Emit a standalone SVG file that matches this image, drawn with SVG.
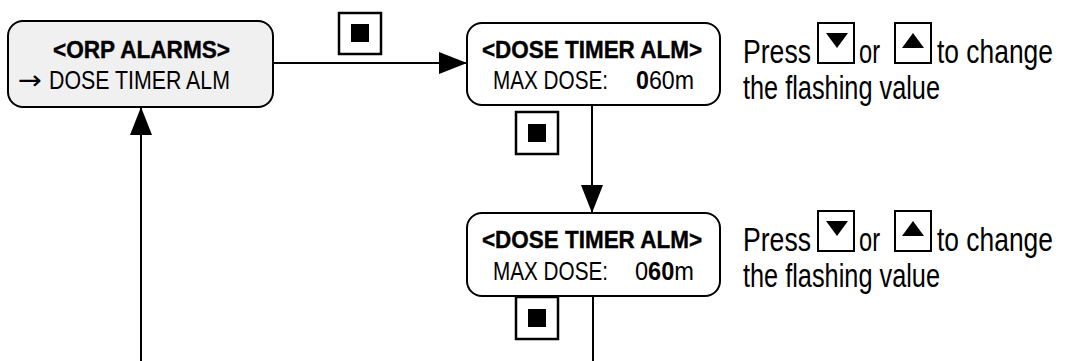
<svg xmlns="http://www.w3.org/2000/svg" width="1077" height="361" viewBox="0 0 1077 361">
<style>
.box{fill:#fff;stroke:#000;stroke-width:2}
.hdr{font-family:"Liberation Sans Narrow","Liberation Sans",Arial,sans-serif;font-weight:bold;font-size:24px;fill:#000;stroke:#000;stroke-width:0.4}
.row{font-family:"Liberation Sans Narrow","Liberation Sans",Arial,sans-serif;font-size:26px;fill:#000}
.b{font-weight:bold}
.note{font-family:"Liberation Sans Narrow","Liberation Sans",Arial,sans-serif;font-size:33px;fill:#000}
.btn{fill:#fff;stroke:#000;stroke-width:2.5}
.key{fill:#fff;stroke:#000;stroke-width:2}
.conn{fill:none;stroke:#000;stroke-width:2}
</style>
<defs>
<marker id="ah" markerUnits="userSpaceOnUse" markerWidth="28" markerHeight="22" viewBox="0 0 28 22" refX="28" refY="11" orient="auto">
<path d="M0,0 L28,11 L0,22 z" fill="#000"/>
</marker>
</defs>
<rect width="1077" height="361" fill="#fff"/>
<g id="connectors">
<line class="conn" x1="273" y1="63" x2="467" y2="63" marker-end="url(#ah)"/>
<line class="conn" x1="592" y1="105" x2="592" y2="213" marker-end="url(#ah)"/>
<line class="conn" x1="593" y1="296" x2="593" y2="361"/>
<line class="conn" x1="141" y1="361" x2="141" y2="107" marker-end="url(#ah)"/>
</g>
<g id="orp-alarms">
<rect x="8" y="21" width="265" height="86" rx="15" fill="#f0f0f0" stroke="#000" stroke-width="2"/>
<text class="hdr" x="53" y="58" textLength="177" lengthAdjust="spacingAndGlyphs">&lt;ORP ALARMS&gt;</text>
<text x="18" y="89" font-family="DejaVu Sans,sans-serif" font-size="26" textLength="24" lengthAdjust="spacingAndGlyphs">→</text>
<text class="row" x="49" y="89" textLength="181" lengthAdjust="spacingAndGlyphs">DOSE TIMER ALM</text>
</g>
<g id="dose-timer-1">
<rect class="box" x="467" y="23" width="253" height="82" rx="15"/>
<text class="hdr" x="482" y="58" textLength="220" lengthAdjust="spacingAndGlyphs">&lt;DOSE TIMER ALM&gt;</text>
<text class="row" x="493" y="89" textLength="115" lengthAdjust="spacingAndGlyphs">MAX DOSE:</text>
<text class="row" x="636" y="89" textLength="58" lengthAdjust="spacingAndGlyphs"><tspan class="b">0</tspan>60m</text>
</g>
<g id="dose-timer-2">
<rect class="box" x="467" y="213" width="253" height="83" rx="15"/>
<text class="hdr" x="482" y="248" textLength="220" lengthAdjust="spacingAndGlyphs">&lt;DOSE TIMER ALM&gt;</text>
<text class="row" x="493" y="280" textLength="115" lengthAdjust="spacingAndGlyphs">MAX DOSE:</text>
<text class="row" x="635" y="280" textLength="59" lengthAdjust="spacingAndGlyphs">0<tspan class="b">60</tspan>m</text>
</g>
<g id="enter-1">
<rect class="btn" x="339" y="13" width="42" height="41"/>
<rect x="351" y="24" width="18" height="18" fill="#000"/>
</g>
<g id="enter-2">
<rect class="btn" x="516" y="112" width="42" height="42"/>
<rect x="528" y="124" width="18" height="18" fill="#000"/>
</g>
<g id="enter-3">
<rect class="btn" x="516" y="297" width="42" height="42"/>
<rect x="528" y="309" width="18" height="18" fill="#000"/>
</g>
<g id="note-1">
<text class="note" x="743" y="63" textLength="68" lengthAdjust="spacingAndGlyphs">Press</text>
<rect class="key" x="818" y="23" width="36" height="40"/>
<polygon points="826,33 848,33 837,48" fill="#000"/>
<text class="note" x="859" y="63" textLength="21" lengthAdjust="spacingAndGlyphs">or</text>
<rect class="key" x="895" y="23" width="36" height="40"/>
<polygon points="902,48 924,48 913,33" fill="#000"/>
<text class="note" x="937" y="63" textLength="116" lengthAdjust="spacingAndGlyphs">to change</text>
<text class="note" x="743" y="99" textLength="197" lengthAdjust="spacingAndGlyphs">the flashing value</text>
</g>
<g id="note-2">
<text class="note" x="743" y="251" textLength="68" lengthAdjust="spacingAndGlyphs">Press</text>
<rect class="key" x="818" y="211" width="36" height="40"/>
<polygon points="826,221 848,221 837,236" fill="#000"/>
<text class="note" x="859" y="251" textLength="21" lengthAdjust="spacingAndGlyphs">or</text>
<rect class="key" x="895" y="211" width="36" height="40"/>
<polygon points="902,236 924,236 913,221" fill="#000"/>
<text class="note" x="937" y="251" textLength="116" lengthAdjust="spacingAndGlyphs">to change</text>
<text class="note" x="743" y="287" textLength="197" lengthAdjust="spacingAndGlyphs">the flashing value</text>
</g>
</svg>
